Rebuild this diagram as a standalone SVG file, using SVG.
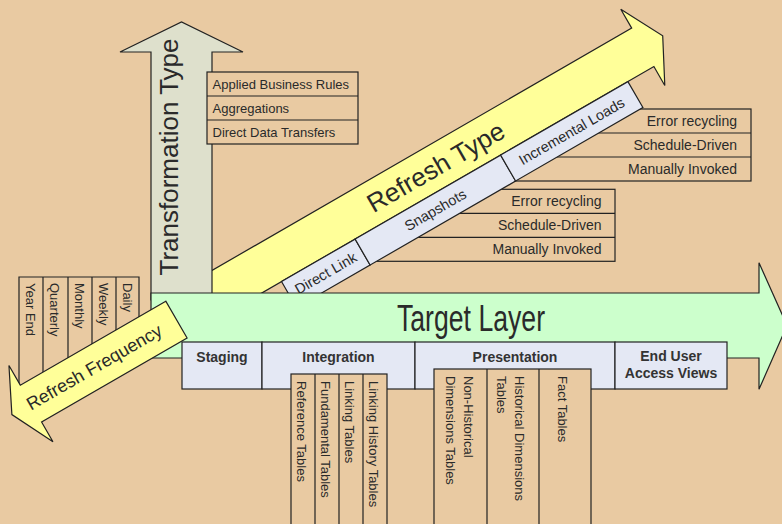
<svg xmlns="http://www.w3.org/2000/svg" width="782" height="524" viewBox="0 0 782 524">
<style>
text{font-family:"Liberation Sans",Arial,sans-serif;fill:#2a2a2a}
.ln{fill:none;stroke:#222;stroke-width:1.2}
.bgf{fill:#e9caa2;stroke:#222;stroke-width:1.2}
.blue{fill:#e4e8f4;stroke:#222;stroke-width:1.2}
.s13{font-size:13px}
.s14{font-size:14px}
.bl{font-size:14.5px;text-anchor:middle}
.b{font-weight:bold;font-size:14px;text-anchor:middle;fill:#333}
.r{text-anchor:end}
.m{text-anchor:middle}
</style>
<rect id="background" width="782" height="524" fill="#e9caa2"/>

<g id="incremental-options">
  <rect class="ln" x="500" y="109" width="251" height="72"/>
  <path class="ln" d="M500,133H751M500,157H751"/>
  <text class="s14 r" x="737" y="125.5">Error recycling</text>
  <text class="s14 r" x="737" y="149.5">Schedule-Driven</text>
  <text class="s14 r" x="737" y="173.5">Manually Invoked</text>
</g>
<g id="snapshot-options">
  <rect class="ln" x="360" y="189.3" width="255" height="72"/>
  <path class="ln" d="M360,213.3H615M360,237.3H615"/>
  <text class="s14 r" x="601.5" y="206">Error recycling</text>
  <text class="s14 r" x="601.5" y="230">Schedule-Driven</text>
  <text class="s14 r" x="601.5" y="254">Manually Invoked</text>
</g>

<g id="refresh-type" transform="rotate(-30)">
  <polygon points="0,340.2 533,340.2 533,318.4 556,362.4 533,406.4 533,384.6 0,384.6" fill="#ffff99" stroke="#222" stroke-width="1.2"/>
  <text x="294" y="371.5" class="m" font-size="26">Refresh Type</text>
  <g id="direct-link">
    <rect class="blue" x="103" y="384.6" width="85" height="30"/>
    <text x="145.5" y="404.5" class="bl">Direct Link</text>
  </g>
  <g id="snapshots">
    <rect class="blue" x="188" y="384.6" width="168" height="30"/>
    <text x="272" y="404.5" class="bl">Snapshots</text>
  </g>
  <g id="incremental-loads">
    <rect class="blue" x="356" y="384.6" width="147" height="30"/>
    <text x="429.5" y="404.5" class="bl">Incremental Loads</text>
  </g>
</g>

<g id="transformation-type">
  <polygon points="151,300 151,52 120,52 181.5,22 243,52 212,52 212,300" fill="#dee0cc" stroke="#222" stroke-width="1.2"/>
  <text transform="translate(178,157) rotate(-90)" class="m" font-size="26">Transformation Type</text>
</g>
<g id="transformation-options">
  <rect class="bgf" x="207" y="72" width="151" height="72"/>
  <path class="ln" d="M207,96H358M207,120H358"/>
  <text class="s13" x="212.5" y="88.5">Applied Business Rules</text>
  <text class="s13" x="212.5" y="112.5">Aggregations</text>
  <text class="s13" x="212.5" y="136.5">Direct Data Transfers</text>
</g>

<g id="frequency-options">
  <path class="ln" d="M19,410.5V277H139V341.2M43,277V396.7M68,277V382.2M92,277V368.4M116,277V354.5"/>
  <text class="s13" transform="translate(25.5,283) rotate(90)">Year End</text>
  <text class="s13" transform="translate(49.5,283) rotate(90)">Quarterly</text>
  <text class="s13" transform="translate(74.5,283) rotate(90)">Monthly</text>
  <text class="s13" transform="translate(98.5,283) rotate(90)">Weekly</text>
  <text class="s13" transform="translate(122.5,283) rotate(90)">Daily</text>
</g>

<g id="target-layer">
  <polygon points="151,293 759,293 759,262.7 787,325.5 759,389.3 759,358 151,358" fill="#ccffcc" stroke="#222" stroke-width="1.2"/>
  <text x="471" y="331" class="m" font-size="36" textLength="148" lengthAdjust="spacingAndGlyphs">Target Layer</text>
</g>

<g id="staging">
  <rect class="blue" x="182" y="342" width="80" height="47"/>
  <text class="b" x="222" y="362">Staging</text>
</g>
<g id="integration">
  <rect class="blue" x="262" y="342" width="153" height="47"/>
  <text class="b" x="338.5" y="362">Integration</text>
</g>
<g id="presentation">
  <rect class="blue" x="415" y="342" width="200" height="47"/>
  <text class="b" x="515" y="362">Presentation</text>
</g>
<g id="end-user-access-views">
  <rect class="blue" x="615" y="342" width="112" height="47"/>
  <text class="b" x="671" y="361">End User</text>
  <text class="b" x="671" y="378">Access Views</text>
</g>

<g id="integration-tables">
  <rect class="bgf" x="291" y="374" width="96" height="160"/>
  <path class="ln" d="M315,374V534M339,374V534M363,374V534"/>
  <text class="s13" transform="translate(297,381) rotate(90)">Reference Tables</text>
  <text class="s13" transform="translate(321,381) rotate(90)">Fundamental Tables</text>
  <text class="s13" transform="translate(345,381) rotate(90)">Linking Tables</text>
  <text class="s13" transform="translate(369,381) rotate(90)">Linking History Tables</text>
</g>
<g id="presentation-tables">
  <rect class="bgf" x="434" y="369" width="157" height="165"/>
  <path class="ln" d="M487,369V534M539,369V534"/>
  <text class="s13" transform="translate(463.5,376) rotate(90)">Non-Historical</text>
  <text class="s13" transform="translate(445.5,376) rotate(90)">Dimensions Tables</text>
  <text class="s13" transform="translate(515,376) rotate(90)">Historical Dimensions</text>
  <text class="s13" transform="translate(497,376) rotate(90)">Tables</text>
  <text class="s13" transform="translate(558,376) rotate(90)">Fact Tables</text>
</g>

<g id="refresh-frequency" transform="rotate(-30)">
  <polygon points="-7,343.7 -175,343.7 -175,321 -197,365 -175,409 -175,386.3 -7,386.3" fill="#ffff99" stroke="#222" stroke-width="1.2"/>
  <text x="-102" y="371.3" class="m" font-size="18">Refresh Frequency</text>
</g>
</svg>
